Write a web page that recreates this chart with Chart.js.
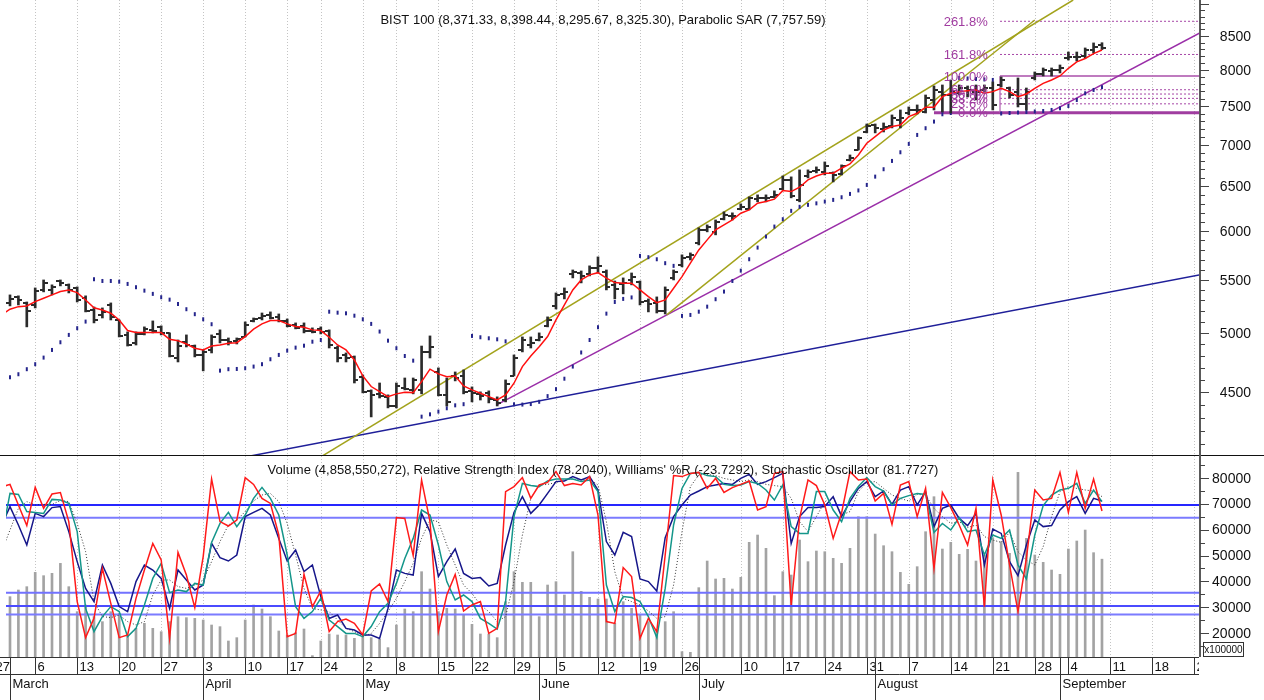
<!DOCTYPE html>
<html>
<head>
<meta charset="utf-8">
<title>BIST 100</title>
<script src="https://cdn.jsdelivr.net/npm/chart.js@4.4.1/dist/chart.umd.min.js"></script>
<style>
  html, body { margin: 0; padding: 0; background: #fff; }
  #wrap { position: relative; width: 1264px; height: 700px; overflow: hidden; background: #fff; }
  #priceChart { position: absolute; left: 0; top: 0; }
  #oscChart { position: absolute; left: 0; top: 455px; }
</style>
</head>
<body>
<div id="wrap">
  <canvas id="priceChart" width="1264" height="456"></canvas>
  <canvas id="oscChart" width="1264" height="245"></canvas>
</div>
<script>
// --- Data: one entry per trading day, index -1 = Feb 28 ... 130 = Sep 8 ---
const firstDay = -1;

const opens = [5220,
  5277, 5334, 5277, 5258, 5401, 5401, 5488, 5450, 5420, 5324,
  5211, 5165, 5258, 5119, 4984, 4913, 4993, 5029, 5056, 5002,
  4783, 4922, 4886, 4809, 4852, 4993, 4939, 4931, 4966, 5110,
  5137, 5165, 5147, 5110, 5074, 5065, 5020, 5038, 5020, 4869,
  4809, 4792, 4624, 4510, 4486, 4462, 4390, 4534, 4518, 4518,
  4835, 4665, 4478, 4632, 4632, 4510, 4486, 4494, 4437, 4437,
  4632, 4852, 4895, 4939, 5065, 5249, 5363, 5558, 5567, 5558,
  5617, 5577, 5450, 5459, 5498, 5478, 5296, 5277, 5202, 5518,
  5648, 5729, 5874, 6012, 5991, 6131, 6164, 6242, 6242, 6354,
  6366, 6377, 6469, 6573, 6343, 6620, 6680, 6668, 6656, 6644,
  6812, 6935, 7161, 7251, 7200, 7238, 7316, 7408, 7448, 7421,
  7582, 7691, 7650, 7677, 7746, 7691, 7719, 7746, 7788, 7746,
  7691, 7528, 7886, 7943, 7985, 7999, 8172, 8187, 8201, 8290,
  8371.33];

const highs = [5344,
  5353, 5344, 5286, 5420, 5498, 5450, 5498, 5459, 5430, 5344,
  5239, 5230, 5277, 5119, 5011, 5011, 5056, 5110, 5065, 5002,
  4939, 4984, 4895, 4852, 4984, 5029, 4957, 4957, 5101, 5137,
  5183, 5193, 5174, 5128, 5092, 5092, 5047, 5056, 5029, 4886,
  4826, 4800, 4640, 4518, 4574, 4478, 4574, 4615, 4615, 4886,
  4975, 4699, 4615, 4665, 4682, 4542, 4502, 4510, 4462, 4599,
  4809, 4966, 4966, 5002, 5147, 5372, 5420, 5597, 5587, 5638,
  5729, 5597, 5488, 5518, 5567, 5488, 5315, 5334, 5430, 5597,
  5750, 5770, 6034, 6066, 6120, 6209, 6198, 6298, 6377, 6400,
  6400, 6446, 6620, 6609, 6692, 6692, 6728, 6788, 6668, 6752,
  6873, 7098, 7264, 7264, 7277, 7382, 7448, 7488, 7515, 7650,
  7774, 7788, 7858, 7788, 7774, 7788, 7788, 7830, 7900, 7760,
  7886, 7746, 7971, 8028, 8028, 8071, 8260, 8260, 8320, 8395,
  8398.44];

const lows = [5193,
  5249, 5258, 5056, 5230, 5382, 5353, 5440, 5372, 5286, 5193,
  5092, 5137, 5119, 4966, 4886, 4895, 4984, 5002, 4984, 4792,
  4749, 4878, 4792, 4674, 4826, 4913, 4895, 4904, 4966, 5101,
  5119, 5128, 5101, 5056, 5038, 5002, 5002, 4993, 4869, 4749,
  4749, 4574, 4494, 4305, 4453, 4375, 4375, 4518, 4486, 4486,
  4783, 4470, 4390, 4591, 4486, 4422, 4437, 4414, 4390, 4422,
  4632, 4835, 4869, 4931, 5056, 5220, 5315, 5518, 5469, 5538,
  5567, 5401, 5315, 5363, 5450, 5258, 5193, 5183, 5174, 5498,
  5628, 5698, 5853, 5991, 5959, 6120, 6120, 6231, 6231, 6321,
  6321, 6366, 6457, 6366, 6321, 6597, 6656, 6632, 6550, 6632,
  6800, 6935, 7149, 7149, 7161, 7213, 7213, 7382, 7395, 7408,
  7448, 7421, 7408, 7650, 7623, 7582, 7691, 7448, 7760, 7609,
  7488, 7448, 7858, 7914, 7914, 7957, 8143, 8128, 8172, 8245,
  8295.67];

const closes = [5296,
  5315, 5305, 5202, 5391, 5469, 5430, 5469, 5401, 5305, 5202,
  5119, 5193, 5147, 4975, 4895, 4993, 5038, 5020, 5002, 4800,
  4886, 4895, 4809, 4835, 4966, 4939, 4922, 4948, 5074, 5128,
  5156, 5137, 5110, 5065, 5047, 5020, 5011, 5011, 4895, 4783,
  4783, 4599, 4502, 4478, 4470, 4390, 4550, 4526, 4599, 4835,
  4878, 4478, 4422, 4615, 4502, 4494, 4470, 4445, 4414, 4566,
  4783, 4939, 4913, 4966, 5119, 5353, 5382, 5577, 5538, 5617,
  5638, 5430, 5411, 5469, 5528, 5286, 5267, 5202, 5401, 5577,
  5719, 5750, 6012, 6044, 6098, 6175, 6164, 6264, 6366, 6366,
  6366, 6400, 6573, 6389, 6515, 6668, 6692, 6740, 6632, 6740,
  6836, 7085, 7238, 7213, 7225, 7342, 7342, 7448, 7448, 7609,
  7719, 7650, 7691, 7746, 7719, 7691, 7746, 7515, 7858, 7650,
  7528, 7691, 7943, 7999, 7999, 8028, 8187, 8187, 8290, 8335,
  8325.30];

// red moving average
const movingAvg = [5165,
  5218, 5242, 5249, 5289, 5321, 5353, 5385, 5401, 5375, 5305,
  5232, 5211, 5181, 5119, 5023, 5005, 5005, 5005, 5005, 4945,
  4933, 4904, 4867, 4852, 4886, 4895, 4910, 4915, 4969, 5035,
  5083, 5113, 5113, 5083, 5059, 5053, 5029, 5023, 4963, 4895,
  4852, 4766, 4632, 4545, 4504, 4464, 4486, 4499, 4496, 4585,
  4688, 4649, 4626, 4632, 4550, 4518, 4491, 4464, 4437, 4478,
  4572, 4710, 4800, 4880, 4969, 5119, 5258, 5401, 5498, 5548,
  5570, 5515, 5472, 5466, 5466, 5401, 5337, 5280, 5305, 5417,
  5531, 5665, 5801, 5906, 6012, 6066, 6120, 6194, 6231, 6306,
  6324, 6351, 6449, 6438, 6488, 6573, 6620, 6652, 6652, 6712,
  6764, 6873, 7018, 7102, 7187, 7230, 7251, 7360, 7404, 7484,
  7484, 7627, 7673, 7696, 7709, 7719, 7673, 7696, 7742, 7696,
  7627, 7664, 7742, 7811, 7858, 7914, 8023, 8117, 8165, 8237,
  8290];

const parabolicSar = [4603,
  4621, 4646, 4688, 4730, 4786, 4852, 4919, 4984, 5044, 5104,
  5505, 5488, 5488, 5481, 5459, 5427, 5394, 5363, 5331, 5308,
  5267, 5218, 5172, 5125, 5080, 4676, 4688, 4690, 4696, 4710,
  4730, 4772, 4809, 4846, 4872, 4889, 4924, 4939, 5195, 5186,
  5180, 5158, 5125, 5083, 5014, 4933, 4867, 4800, 4760, 4307,
  4325, 4346, 4372, 4395, 4404, 4975, 4963, 4954, 4945, 4927,
  4403, 4401, 4405, 4423, 4468, 4524, 4609, 4710, 4830, 4939,
  5053, 5177, 5286, 5315, 5329, 5739, 5726, 5705, 5665, 5638,
  5156, 5165, 5195, 5242, 5312, 5385, 5488, 5590, 5705, 5825,
  5941, 6048, 6128, 6220, 6265, 6287, 6304, 6324, 6343, 6373,
  6411, 6451, 6515, 6612, 6700, 6800, 6906, 7010, 7123, 7209,
  7295, 7391, 7408, 7886, 7879, 7872, 7865, 7858, 7401, 7408,
  7414, 7421, 7428, 7434, 7448, 7470, 7501, 7582, 7673, 7719,
  7757.59];

// volume in units of 100,000
const volume = [null,
  34130, 36700, 37980, 43500, 42220, 43120, 46970, 37980, 28340, 30910,
  26420, 24490, 28340, 27700, 19350, 21920, 23850, 21920, 20630, 24490,
  26420, 26030, 25770, 25130, 23200, 22560, 17030, 18320, 25130, 30910,
  29370, 26420, 20890, 19350, 20250, 21660, 11380, 17030, 19730, 19350,
  19350, 18060, 18710, 18320, 17680, 14470, 23200, 29370, 28340, 43760,
  37080, 28340, 29630, 29370, 27060, 23460, 19730, 19730, 18320, 32200,
  43760, 39650, 39650, 26420, 38620, 39910, 34770, 51470, 36190, 33870,
  33230, 33230, 23850, 32200, 29630, 27060, 24490, 21270, 24490, 28340,
  12920, 12660, 37600, 47870, 40940, 41190, 37080, 41580, 55070, 57900,
  52760, 34510, 43760, 42480, 55970, 47620, 51730, 51470, 48900, 46980,
  52760, 64970, 64970, 58280, 53780, 51470, 43500, 38880, 45690, 59180,
  72680, 52500, 55070, 50440, 52370, 47870, 50190, 56610, 55330, 50830,
  82060, 56610, 50190, 47360, 44400, 42740, 52500, 55590, 59820, 51090,
  48586];

// oscillators, each as drawn in the lower panel (0 = panel bottom, 100 = panel top)
const rsi = [85,
  86.3, 76, 65.7, 84.8, 74.3, 81.5, 82.2, 67.7, 27.7, 9.7,
  19.3, 44.3, 26.8, 9.7, 11, 29.3, 43.5, 56.8, 48.5, 9.3,
  52.3, 41, 24.7, 50.2, 89, 67.7, 65.5, 68.5, 89.7, 86.3,
  79.3, 76.8, 61, 10.2, 11.8, 41.3, 25.2, 33, 12.7, 17.7,
  19, 16.8, 11, 33, 36.5, 27.7, 69.7, 69.3, 50.7, 88.5,
  67.7, 12.7, 31, 41.3, 23, 26, 27.7, 11.8, 14.3, 82.7,
  85.2, 89.7, 79.3, 86, 87.3, 92.7, 85.7, 86.8, 86, 90.2,
  71, 17.7, 16.8, 44.7, 40.2, 9.3, 19.3, 12.7, 51, 90.7,
  90.2, 91.8, 92.3, 84.3, 89.3, 82.3, 84.7, 86.3, 88, 73.5,
  75.2, 91.8, 92.7, 26, 69.3, 88.5, 85.7, 76, 59.3, 72,
  92.7, 88.5, 89, 78, 81.8, 66.3, 86, 87.7, 70.2, 84.3,
  44.3, 82.3, 74.7, 66, 56, 74.3, 25.2, 88.5, 71, 46,
  22.7, 49.3, 83.5, 78.5, 79.3, 92.3, 72.3, 92.3, 74.3, 89,
  73];

const williamsR = [60,
  81.8, 81.3, 72.7, 72.3, 71.8, 78.8, 78.5, 76.8, 62.7, 24.3,
  12.7, 20.2, 25.2, 22.7, 10.2, 14.3, 26, 39.3, 46.8, 32.2,
  33.5, 32.7, 36.8, 36, 57.3, 66.8, 72.3, 65.2, 71, 79.3,
  84.8, 79.3, 71, 51, 25.2, 19.3, 22.7, 29.3, 18.5, 15.2,
  11.8, 11.8, 10.2, 15.2, 22.7, 26.8, 36.8, 49.3, 59.3, 73.5,
  71, 56, 37.7, 28.5, 31, 27.7, 19.3, 16.8, 14, 27.7,
  70.2, 86.8, 85.7, 85.2, 88, 89, 89, 89, 87.7, 88.5,
  82.7, 36, 22.7, 30.2, 29.7, 27.7, 20.2, 9.7, 34.3, 66,
  84.3, 91.8, 92.3, 90.7, 90.2, 86.3, 85.7, 86, 87.7, 86.8,
  83.5, 78.5, 86, 65.2, 61.8, 61.8, 82.7, 82.7, 73.5, 67.7,
  79.3, 85.2, 89.7, 85.2, 83, 76, 79.3, 80.7, 81.8, 81.3,
  62.3, 66.8, 63.5, 69.7, 62.7, 63.5, 51, 61, 59.3, 63.5,
  46, 39, 61, 75.7, 81, 83.5, 84.3, 86.8, 76.8, 83.5,
  77.7];

const stochK = [66,
  75.2, 66, 56, 71.8, 70.2, 74.7, 75.2, 62.7, 47.7, 34.3,
  27.7, 46, 36.8, 25.2, 22.7, 37.7, 46, 43.5, 39.3, 24.3,
  43.5, 38.5, 33.5, 36, 56.8, 49.7, 48, 51, 70.2, 72.3,
  74.3, 71, 59.3, 48, 53.5, 42.7, 46, 30.2, 19.3, 21,
  14.3, 13.5, 11, 11, 9.3, 24.3, 43.5, 41.8, 41, 71.8,
  62.7, 40.2, 47.7, 54, 41.8, 39.3, 39.7, 35.5, 36.8, 56,
  72.3, 80.2, 71.8, 76, 81.8, 87.7, 88, 90.2, 88.5, 90.2,
  83.5, 57.7, 51, 62.3, 60.2, 39, 37.7, 33, 59.7, 70.2,
  76, 81, 83, 85.2, 86, 86.8, 86.3, 89.3, 91.3, 86.3,
  87.7, 89.7, 91.8, 56.8, 70.2, 74.7, 74.7, 75.2, 80.2, 70.2,
  77.7, 84.3, 87.7, 80.2, 83, 76.3, 83.5, 85.2, 76, 82.7,
  65.2, 74.3, 76, 69.3, 65.7, 71.8, 46, 64, 61.8, 47.7,
  40.7, 56, 68.5, 65.2, 65.7, 73.5, 77.7, 80.2, 71.8, 79.3,
  78];

const stochD = [52.7,
  63.5, 74.3, 77.7, 76, 76.3, 76.3, 78.2, 77.7, 66.8, 52.7,
  27.7, 20.2, 19.7, 21, 17.7, 16, 17.7, 31, 38.5, 38.5,
  35.2, 34.3, 36, 38.5, 47.7, 57.7, 66, 68.5, 72.7, 78,
  81, 81.8, 77.7, 66.8, 51, 34.3, 24.3, 23.5, 22.7, 18.5,
  14.3, 12.7, 10.2, 11.8, 16.8, 22.7, 29.3, 37.7, 46.8, 59.3,
  68.5, 67.7, 56, 46, 36, 31.8, 26, 22.7, 17.7, 20.2,
  37.7, 61, 79.3, 86, 86.3, 87.3, 88.5, 89, 88.5, 89,
  86, 67.7, 42.7, 29.3, 27.7, 26, 23, 19.3, 20.2, 36,
  62.7, 85.2, 91, 91.3, 90.7, 89.3, 88.5, 87.7, 88.5, 87.7,
  86.3, 85.7, 85.2, 79.3, 67.7, 62.7, 70.2, 77.7, 79.7, 71,
  72.7, 82.7, 87.3, 87.7, 84.3, 81, 79.3, 78, 81.3, 81,
  74.3, 70.2, 66.8, 67.7, 64.7, 66, 60.2, 58.5, 57.3, 62.3,
  52.7, 48.5, 46, 55.2, 70.2, 82.7, 85.2, 84.3, 83.5, 83,
  80.2];

// --- Drawn objects (day index, price) ---
const upperChannel = [[36, 3972], [126.57, 9064]];
const lowerChannel = [[78.18, 5165], [122, 8746]];
const purpleTrend = [[57.94, 4398], [143, 8638]];
const navyTrend = [[28, 4008], [143, 5569]];
const fibLowDay = 110;
const fibHighDay = 117.86;
const fibLabelDay = 116.4;
const fibLevels = [['0.0%', 7412], ['23.6%', 7530], ['38.2%', 7604], ['50.0%', 7663],
  ['61.8%', 7722], ['100.0%', 7914], ['161.8%', 8224], ['261.8%', 8726]];
const oscLevels = [76, 69.6, 32.1, 25.5, 21.3];

// --- Axis labels ---
const weekTicks = [[-2, '27'], [3, '6'], [8, '13'], [13, '20'], [18, '27'], [23, '3'], [28, '10'],
  [33, '17'], [37, '24'], [42, '2'], [46, '8'], [51, '15'], [55, '22'], [60, '29'], [65, '5'],
  [70, '12'], [75, '19'], [80, '26'], [87, '10'], [92, '17'], [97, '24'], [102, '31'], [107, '7'],
  [112, '14'], [117, '21'], [122, '28'], [126, '4'], [131, '11'], [136, '18'], [141, '25']];
const monthTicks = [[0, 'March'], [23, 'April'], [42, 'May'], [63, 'June'], [82, 'July'],
  [103, 'August'], [125, 'September']];
const priceLabels = [4500, 5000, 5500, 6000, 6500, 7000, 7500, 8000, 8500];
const volumeLabels = [20000, 30000, 40000, 50000, 60000, 70000, 80000];

const priceTitle = 'BIST 100 (8,371.33, 8,398.44, 8,295.67, 8,325.30), Parabolic SAR (7,757.59)';
const oscTitle = "Volume (4,858,550,272), Relative Strength Index (78.2040), Williams' %R (-23.7292), Stochastic Oscillator (81.7727)";

// --- Layout constants ---
const fontFamily = "'Liberation Sans', Arial, sans-serif";
const xMin = -0.476;
const xMax = 141.55;
const axisX = 1200;

// --- Helpers ---
const days = closes.map((_, k) => firstDay + k);
const pts = (arr) => arr.map((v, k) => ({ x: days[k], y: v }));
const segment = (pair) => pair.map(([x, y]) => ({ x, y }));

function tickImage(side) {
    const c = document.createElement('canvas');
    c.width = 8; c.height = 2;
    const g = c.getContext('2d');
    g.fillStyle = '#2b2b2b';
    g.fillRect(side === 'left' ? 0 : 4, 0, 4, 2);
    return c;
}

function strokeLine(ctx, x1, y1, x2, y2) {
    ctx.beginPath();
    ctx.moveTo(x1, y1);
    ctx.lineTo(x2, y2);
    ctx.stroke();
}

function drawWeekGrid(chart) {
    const { ctx, chartArea, scales } = chart;
    ctx.save();
    ctx.strokeStyle = '#c4c4c4';
    ctx.lineWidth = 1;
    ctx.setLineDash([1, 2]);
    weekTicks.forEach(([day]) => {
        const px = Math.round(scales.x.getPixelForValue(day)) + 0.5;
        if (px < chartArea.left || px > chartArea.right) return;
        strokeLine(ctx, px, chartArea.top, px, chartArea.bottom);
    });
    ctx.restore();
}

const baseOptions = (padding) => ({
    responsive: false,
    animation: false,
    events: [],
    layout: { padding, autoPadding: false },
    plugins: { legend: { display: false }, tooltip: { enabled: false } },
});

// --- Price panel ---
const pricePanelPlugin = {
    id: 'pricePanel',
    beforeDatasetsDraw(chart) { drawWeekGrid(chart); },
    afterDatasetsDraw(chart) {
        const { ctx, chartArea, scales } = chart;
        const { x, y } = scales;
        ctx.save();
        ctx.font = `13px ${fontFamily}`;
        ctx.textBaseline = 'middle';

        // Fibonacci labels
        ctx.fillStyle = '#a03ca0';
        ctx.textAlign = 'right';
        fibLevels.forEach(([label, value]) => {
            ctx.fillText(label, x.getPixelForValue(fibLabelDay), y.getPixelForValue(value) + 1);
        });

        // title
        ctx.fillStyle = '#111';
        ctx.textAlign = 'center';
        ctx.fillText(priceTitle, 603, 20);

        // right axis
        ctx.strokeStyle = '#5a5a5a';
        ctx.lineWidth = 2;
        strokeLine(ctx, axisX, 0, axisX, chart.height);
        ctx.lineWidth = 1;
        ctx.strokeStyle = '#444';
        for (let v = 4100; v <= 9000; v += 100) {
            const py = Math.round(y.getPixelForValue(v)) + 0.5;
            if (py < 1 || py > chartArea.bottom) continue;
            strokeLine(ctx, axisX, py, axisX + (v % 500 === 0 ? 9 : 5), py);
        }
        ctx.font = `14px ${fontFamily}`;
        ctx.textAlign = 'right';
        priceLabels.forEach(v => ctx.fillText(String(v), 1251, y.getPixelForValue(v) + 1));
        ctx.restore();
    }
};

const openTick = tickImage('left');
const closeTick = tickImage('right');

const lineSet = (label, data, color, width, order, extra = {}) => ({
    type: 'line', label, data, borderColor: color, borderWidth: width,
    pointRadius: 0, tension: 0, order, ...extra
});

const fibSets = fibLevels.map(([label, value]) => {
    const isLow = label === '0.0%';
    const isHigh = label === '100.0%';
    return lineSet('Fib ' + label,
        [{ x: isLow ? fibLowDay : fibHighDay, y: value }, { x: xMax + 2, y: value }],
        isLow ? 'rgba(150,40,150,0.9)' : isHigh ? 'rgba(180,100,180,0.85)' : '#a646a6',
        isLow ? 3 : isHigh ? 2 : 1, 7,
        { borderDash: (isLow || isHigh) ? [] : [2, 2] });
});

new Chart(document.getElementById('priceChart'), {
    type: 'scatter',
    data: {
        datasets: [
            lineSet('Moving average', pts(movingAvg), '#ff1010', 1.5, 1),
            { type: 'scatter', label: 'Open', data: pts(opens), pointStyle: openTick, pointRadius: 3, order: 2 },
            { type: 'scatter', label: 'Close', data: pts(closes), pointStyle: closeTick, pointRadius: 3, order: 2 },
            {
                type: 'bar', label: 'High-Low',
                data: lows.map((l, k) => ({ x: days[k], y: [l, highs[k]] })),
                backgroundColor: '#2b2b2b', barThickness: 2, grouped: false, order: 3
            },
            {
                type: 'scatter', label: 'Parabolic SAR', data: pts(parabolicSar),
                pointStyle: 'line', rotation: 90, pointRadius: 2, borderWidth: 2,
                borderColor: '#25258c', order: 4
            },
            lineSet('Upper channel', segment(upperChannel), '#a3a31c', 1.5, 5),
            lineSet('Lower channel', segment(lowerChannel), '#a3a31c', 1.5, 5),
            lineSet('Purple trend', segment(purpleTrend), '#9a2ea8', 1.5, 5),
            lineSet('Navy trend', segment(navyTrend), '#1f1f99', 1.5, 5),
            lineSet('Fib range', [{ x: fibHighDay, y: fibLevels[0][1] }, { x: fibHighDay, y: fibLevels[5][1] }],
                'rgba(180,100,180,0.85)', 1.5, 6),
            ...fibSets
        ]
    },
    options: {
        ...baseOptions({ left: 6, right: 65, top: 0, bottom: 1 }),
        scales: {
            x: { type: 'linear', display: false, min: xMin, max: xMax, offset: false, bounds: 'data' },
            y: { type: 'logarithmic', display: false, min: 4022, max: 9064, bounds: 'data' }
        }
    },
    plugins: [pricePanelPlugin]
});

// --- Volume / oscillator panel ---
const oscPanelPlugin = {
    id: 'oscPanel',
    beforeDatasetsDraw(chart) { drawWeekGrid(chart); },
    afterDatasetsDraw(chart) {
        const { ctx, chartArea, scales } = chart;
        const vol = scales.vol;
        const x = scales.x;
        ctx.save();

        // separator between panels
        ctx.strokeStyle = '#111';
        ctx.lineWidth = 1;
        strokeLine(ctx, 0, 0.5, chart.width, 0.5);

        ctx.font = `13px ${fontFamily}`;
        ctx.textBaseline = 'middle';
        ctx.fillStyle = '#111';
        ctx.textAlign = 'center';
        ctx.fillText(oscTitle, 603, 15);

        // right axis
        ctx.strokeStyle = '#5a5a5a';
        ctx.lineWidth = 2;
        strokeLine(ctx, axisX, 0, axisX, chartArea.bottom);
        ctx.lineWidth = 1;
        ctx.strokeStyle = '#444';
        for (let v = 15000; v <= 85000; v += 5000) {
            const py = Math.round(vol.getPixelForValue(v)) + 0.5;
            strokeLine(ctx, axisX, py, axisX + (v % 10000 === 0 ? 9 : 5), py);
        }
        ctx.font = `14px ${fontFamily}`;
        ctx.textAlign = 'right';
        volumeLabels.forEach(v => ctx.fillText(String(v), 1251, vol.getPixelForValue(v) + 1));

        // multiplier box
        ctx.strokeStyle = '#333';
        ctx.strokeRect(1203.5, 187.5, 40, 14);
        ctx.font = `10px ${fontFamily}`;
        ctx.textAlign = 'center';
        ctx.fillText('x100000', 1223.5, 195);

        // date axis
        ctx.beginPath();
        ctx.rect(0, chartArea.bottom - 1, 1199, chart.height);
        ctx.clip();
        const base = chartArea.bottom + 0.5;
        ctx.strokeStyle = '#333';
        strokeLine(ctx, 0, base, 1199, base);
        strokeLine(ctx, 0, base + 17, 1199, base + 17);
        ctx.font = `13px ${fontFamily}`;
        ctx.textAlign = 'left';
        weekTicks.forEach(([day, label]) => {
            const px = Math.round(x.getPixelForValue(day)) + 0.5;
            strokeLine(ctx, px, base, px, base + 17);
            ctx.fillText(label, px + 2, base + 9.5);
        });
        monthTicks.forEach(([day, label]) => {
            const px = Math.round(x.getPixelForValue(day)) + 0.5;
            strokeLine(ctx, px, base, px, chart.height);
            ctx.fillText(label, px + 2, base + 27);
        });
        ctx.restore();
    }
};

const levelColors = ['#2626ff', '#7b7bff', '#7272ff', '#4b4bff', '#7b7bff'];

new Chart(document.getElementById('oscChart'), {
    type: 'scatter',
    data: {
        datasets: [
            lineSet('RSI', pts(rsi), '#ff1a1a', 1.5, 1, { yAxisID: 'osc' }),
            lineSet("Williams' %R", pts(williamsR), '#14968a', 1.5, 2, { yAxisID: 'osc' }),
            lineSet('Stochastic %K', pts(stochK), '#16168a', 1.5, 3, { yAxisID: 'osc' }),
            lineSet('Stochastic %D', pts(stochD), '#333333', 1, 4, { yAxisID: 'osc', borderDash: [1, 2] }),
            ...oscLevels.map((v, k) => lineSet('Level ' + v,
                [{ x: xMin - 1, y: v }, { x: xMax + 1, y: v }], levelColors[k], 2, 5, { yAxisID: 'osc' })),
            {
                type: 'bar', label: 'Volume', data: pts(volume), yAxisID: 'vol',
                backgroundColor: '#a3a3a3', barThickness: 2, grouped: false, order: 6
            }
        ]
    },
    options: {
        ...baseOptions({ left: 6, right: 65, top: 1, bottom: 43 }),
        scales: {
            x: { type: 'linear', display: false, min: xMin, max: xMax, offset: false, bounds: 'data' },
            vol: { type: 'linear', display: false, position: 'right', min: 10860, max: 88370, bounds: 'data' },
            osc: { type: 'linear', display: false, position: 'right', min: 0, max: 100.5, bounds: 'data' }
        }
    },
    plugins: [oscPanelPlugin]
});
</script>
</body>
</html>
